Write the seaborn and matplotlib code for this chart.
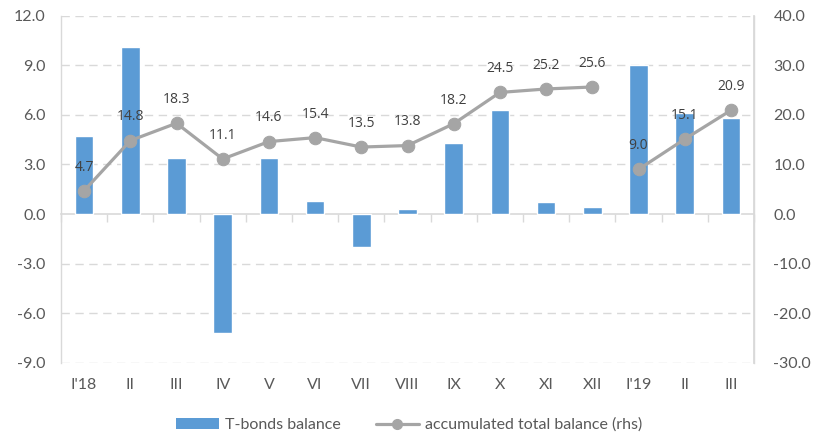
import numpy as np
import pandas as pd
import matplotlib
matplotlib.use("Agg")
import matplotlib.pyplot as plt
import seaborn as sns
from matplotlib.ticker import FormatStrFormatter, FixedLocator
from matplotlib.patches import Patch
from matplotlib.lines import Line2D

# Data
months = ["I'18", "II", "III", "IV", "V", "VI", "VII", "VIII", "IX", "X", "XI", "XII", "I'19", "II", "III"]
years = [2018] * 12 + [2019] * 3
tbonds = [4.7, 10.1, 3.4, -7.2, 3.4, 0.8, -2.0, 0.3, 4.3, 6.3, 0.7, 0.4, 9.0, 6.1, 5.8]
accumulated = [4.7, 14.8, 18.3, 11.1, 14.6, 15.4, 13.5, 13.8, 18.2, 24.5, 25.2, 25.6, 9.0, 15.1, 20.9]

df = pd.DataFrame({"pos": np.arange(len(months)), "year": years, "tbonds": tbonds, "acc": accumulated})

sns.set_theme(style="white")
plt.rcParams["font.family"] = ["Lato", "DejaVu Sans"]

bar_color = "#5B9BD5"
line_color = "#A5A5A5"
text_color = "#595959"
grid_color = "#D9D9D9"
fs = 11.5

fig = plt.figure(figsize=(8.18, 4.34), dpi=100)
ax = fig.add_axes([61 / 818, 1 - 363 / 434, (754 - 61) / 818, (363 - 15.5) / 434])

sns.barplot(data=df, x="pos", y="tbonds", color=bar_color, width=0.4, saturation=1, ax=ax)
ax.set_ylim(-9, 12)
ax.set_xlim(-0.5, len(months) - 0.5)
ax.set_yticks(np.arange(-9, 12.1, 3))
ax.yaxis.set_major_formatter(FormatStrFormatter("%.1f"))
ax.set_xticks(np.arange(len(months)))
ax.set_xticklabels(months)
ax.set_xlabel("")
ax.set_ylabel("")

# dashed gridlines, solid zero axis
for v in np.arange(-9, 12.1, 3):
    if v != 0:
        ax.axhline(v, color=grid_color, lw=1, ls=(0, (6, 4)), zorder=0)

ax.spines["top"].set_visible(False)
ax.spines["bottom"].set_visible(False)
for s in ["left", "right"]:
    ax.spines[s].set_color(grid_color)
    ax.spines[s].set_linewidth(1)

ax.tick_params(axis="x", length=0, pad=11, labelsize=fs, labelcolor=text_color)
ax.tick_params(axis="y", length=0, pad=11, labelsize=fs, labelcolor=text_color)

# zero line with category separator ticks
zero_ax = ax.secondary_xaxis(9 / 21)
zero_ax.spines["bottom"].set_color(grid_color)
zero_ax.spines["bottom"].set_linewidth(1.2)
zero_ax.xaxis.set_major_locator(FixedLocator(np.arange(-0.5, len(months), 1)))
zero_ax.tick_params(axis="x", length=6, width=1, color=grid_color, labelbottom=False, direction="out")

# accumulated balance restarts each year -> separate line segments
ax2 = ax.twinx()
sns.lineplot(data=df, x="pos", y="acc", units="year", estimator=None, color=line_color,
             lw=2.3, marker="o", markersize=9, markeredgecolor=line_color, ax=ax2, legend=False)
ax2.set_ylim(-30, 40)
ax2.set_yticks(np.arange(-30, 40.1, 10))
ax2.yaxis.set_major_formatter(FormatStrFormatter("%.1f"))
ax2.set_ylabel("")
ax2.set_xlabel("")
for s in ["top", "bottom", "left"]:
    ax2.spines[s].set_visible(False)
ax2.spines["right"].set_color(grid_color)
ax2.tick_params(axis="y", length=0, pad=14, labelsize=fs, labelcolor=text_color)

for x, v in zip(df["pos"], accumulated):
    ax2.annotate(f"{v:.1f}", (x, v), xytext=(0, 17), textcoords="offset points",
                 ha="center", va="center", fontsize=10, color="#404040",
                 family=["Open Sans", "DejaVu Sans"])

handles = [Patch(facecolor=bar_color, edgecolor="none"),
           Line2D([], [], color=line_color, lw=2.3, marker="o", markersize=7)]
fig.legend(handles, ["T-bonds balance", "accumulated total balance (rhs)"],
           loc="center", bbox_to_anchor=(0.5, 1 - 425 / 434), ncol=2, frameon=False,
           fontsize=fs, labelcolor=text_color, handlelength=2.7, handleheight=0.6,
           handletextpad=0.35, columnspacing=2.2)

plt.savefig("out.png", dpi=100)
